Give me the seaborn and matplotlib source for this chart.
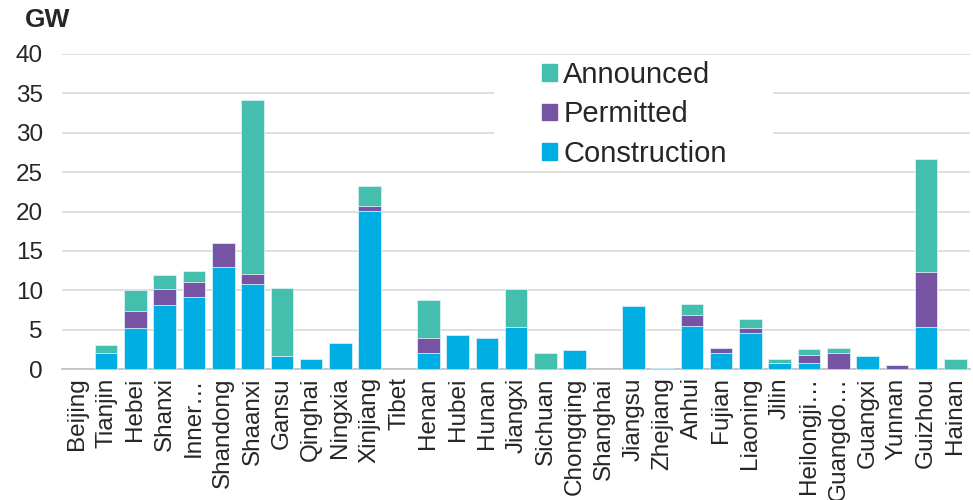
import matplotlib
matplotlib.use("Agg")
import matplotlib.pyplot as plt
import seaborn as sns
import pandas as pd
import numpy as np
from matplotlib.patches import Patch, Rectangle

provinces = ["Beijing", "Tianjin", "Hebei", "Shanxi", "Inner…", "Shandong", "Shaanxi",
             "Gansu", "Qinghai", "Ningxia", "Xinjiang", "Tibet", "Henan", "Hubei", "Hunan",
             "Jiangxi", "Sichuan", "Chongqing", "Shanghai", "Jiangsu", "Zhejiang", "Anhui",
             "Fujian", "Liaoning", "Jilin", "Heilongji…", "Guangdo…", "Guangxi", "Yunnan",
             "Guizhou", "Hainan"]
construction = [0, 2.0, 5.2, 8.15, 9.1, 12.9, 10.8, 1.7, 1.3, 3.35, 20.1, 0, 2.0, 4.3, 4.0,
                5.35, 0, 2.4, 0, 8.0, 0.15, 5.5, 2.0, 4.6, 0.7, 0.7, 0, 1.6, 0, 5.3, 0]
permitted = [0, 0, 2.15, 2.0, 1.95, 3.1, 1.25, 0, 0, 0, 0.6, 0, 2.0, 0, 0,
             0, 0, 0, 0, 0, 0, 1.35, 0.7, 0.6, 0, 1.1, 2.0, 0, 0.55, 7.0, 0]
announced = [0, 1.0, 2.7, 1.85, 1.35, 0, 22.15, 8.6, 0, 0, 2.5, 0, 4.7, 0, 0,
             4.75, 2.0, 0, 0, 0, 0, 1.4, 0, 1.1, 0.6, 0.7, 0.7, 0, 0, 14.4, 1.3]

c_con = "#00AEE3"
c_per = "#7753A4"
c_ann = "#45BFAD"

df = pd.DataFrame({"province": provinces,
                   "Construction": construction,
                   "Permitted": permitted,
                   "Announced": announced})
df["lvl2"] = df["Construction"] + df["Permitted"]
df["lvl3"] = df["lvl2"] + df["Announced"]

sns.set_style("white")
plt.rcParams["font.family"] = ["Liberation Sans", "DejaVu Sans"]

fig, ax = plt.subplots(figsize=(9.73, 5.0), dpi=100)
fig.subplots_adjust(left=0.064, right=0.997, top=0.892, bottom=0.262)

# stacked bars: draw cumulative totals from the top layer down
kw = dict(x="province", ax=ax, width=0.77, edgecolor="#d8f0f5", linewidth=0.6,
          order=provinces, zorder=3, saturation=1)
sns.barplot(data=df, y="lvl3", color=c_ann, **kw)
sns.barplot(data=df, y="lvl2", color=c_per, **kw)
sns.barplot(data=df, y="Construction", color=c_con, **kw)
for p in ax.patches:
    if p.get_height() == 0:
        p.set_linewidth(0)

ax.set_ylim(0, 40)
ax.set_xlim(-0.5, len(provinces) - 0.5)
ax.set_yticks(np.arange(0, 41, 5))
ax.grid(axis="y", color="#d9d9d9", linewidth=1.2, zorder=0)
ax.set_axisbelow(True)
ax.set_xlabel("")
ax.set_ylabel("")

for s in ["top", "right", "left"]:
    ax.spines[s].set_visible(False)
ax.spines["bottom"].set_color("#bfbfbf")
ax.spines["bottom"].set_linewidth(1.2)

ax.tick_params(axis="y", length=0, pad=14, labelsize=17.5)
ax.set_xticks(range(len(provinces)))
ax.set_xticklabels(provinces, rotation=90, fontsize=17.5)
ax.tick_params(axis="x", which="major", length=0, pad=6)
ax.set_xticks(np.arange(-0.5, len(provinces), 1), minor=True)
ax.tick_params(axis="x", which="minor", length=7, color="#bfbfbf", width=1.2)

fig.text(0.0257, 0.946, "GW", fontsize=19, fontweight="bold", va="baseline")

# white legend panel over the gridlines
ax.add_patch(Rectangle((0.476, 0.635), 0.307, 0.355, transform=ax.transAxes,
                       facecolor="white", edgecolor="none", zorder=1))

handles = [Patch(color=c_ann, label="Announced"),
           Patch(color=c_per, label="Permitted"),
           Patch(color=c_con, label="Construction")]
leg = ax.legend(handles=handles, loc="upper left", bbox_to_anchor=(0.5286, 0.978),
                frameon=False, fontsize=21, handlelength=0.51, handleheight=0.51,
                handletextpad=0.22, labelspacing=0.39, borderpad=0, borderaxespad=0)
leg.set_zorder(5)

fig.savefig("out.png", dpi=100)
